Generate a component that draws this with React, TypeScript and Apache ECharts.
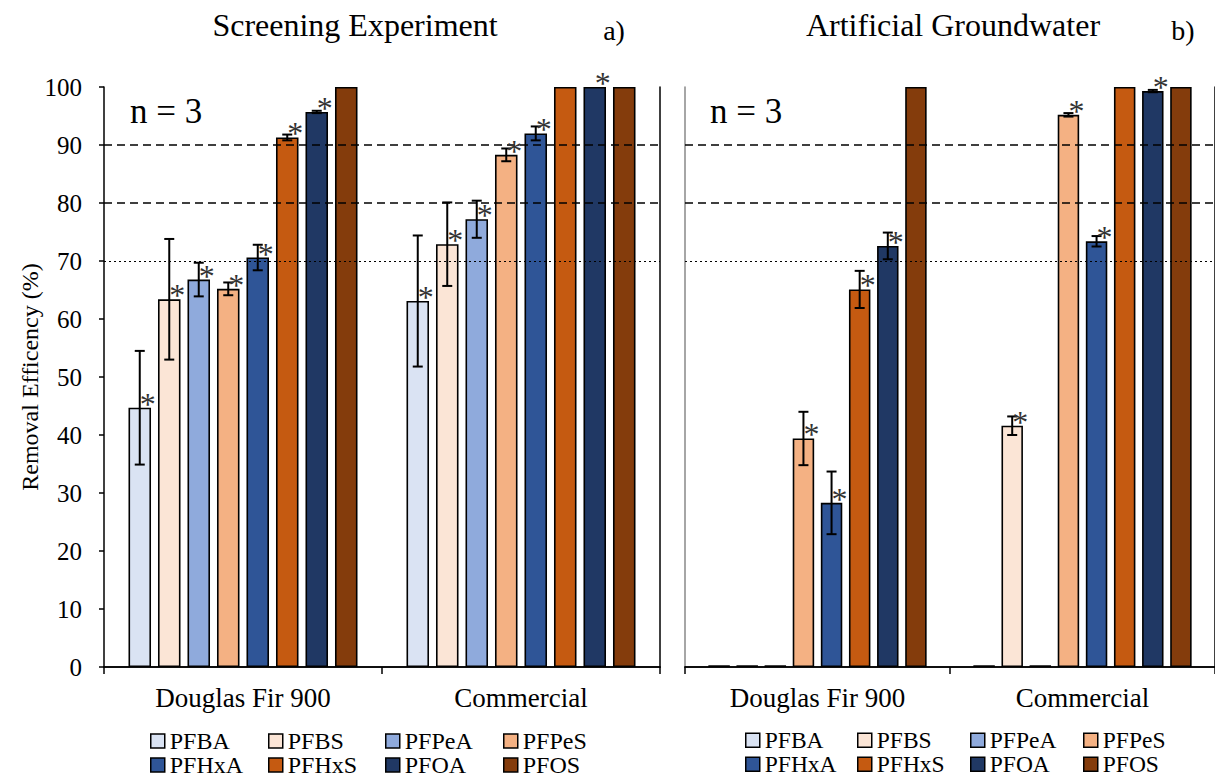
import React, { useEffect, useRef } from "react";
import * as echarts from "echarts";

const categories = ["Douglas Fir 900", "Commercial"];
const compounds = ["PFBA", "PFBS", "PFPeA", "PFPeS", "PFHxA", "PFHxS", "PFOA", "PFOS"];
const colors = ["#DAE3F3", "#FBE5D6", "#8FAADC", "#F4B183", "#2F5597", "#C55A11", "#203864", "#843C0C"];
const yTicks = [0, 10, 20, 30, 40, 50, 60, 70, 80, 90, 100];

// a) Screening Experiment
const screenDF900Mean = [44.7, 63.4, 66.8, 65.2, 70.6, 91.3, 95.7, 100];
const screenDF900Err = [9.8, 10.4, 2.9, 1.1, 2.2, 0.5, 0.2, 0];
const screenDF900Star = [1, 1, 1, 1, 1, 1, 1, 0];
const screenComMean = [63.1, 72.9, 77.2, 88.3, 92.0, 100, 100, 100];
const screenComErr = [11.3, 7.2, 3.2, 1.1, 1.2, 0, 0, 0];
const screenComStar = [1, 1, 1, 1, 1, 0, 1, 0];

// b) Artificial Groundwater
const agwDF900Mean = [0.3, 0.3, 0.3, 39.4, 28.3, 65.1, 72.6, 100];
const agwDF900Err = [0, 0, 0, 4.6, 5.4, 3.2, 2.3, 0];
const agwDF900Star = [0, 0, 0, 1, 1, 1, 1, 0];
const agwComMean = [0.3, 41.6, 0.3, 95.2, 73.4, 100, 99.3, 100];
const agwComErr = [0, 1.6, 0, 0.3, 0.9, 0, 0.2, 0];
const agwComStar = [0, 1, 0, 1, 1, 0, 1, 0];

const FONT = "'Liberation Serif', 'Times New Roman', serif";
const BW = 0.081;
const GAP = 0.31;

function buildPanel(p: number, dfMean: number[], dfErr: number[], dfStar: number[], comMean: number[], comErr: number[], comStar: number[]) {
  const series: any[] = [];
  compounds.forEach((name, i) => {
    const s: any = {
      type: "bar",
      name,
      xAxisIndex: p * 2,
      yAxisIndex: p * 2,
      data: [dfMean[i], comMean[i]],
      barWidth: (BW * 100).toFixed(1) + "%",
      barGap: Math.round(GAP * 100) + "%",
      itemStyle: { color: colors[i], borderColor: "#000", borderWidth: 1.6 },
      emphasis: { disabled: true },
      z: 2,
    };
    if (i === compounds.length - 1) {
      s.markLine = {
        symbol: "none",
        silent: true,
        z: 5,
        label: { show: false },
        data: [
          { yAxis: 90, lineStyle: { color: "#000", width: 1.5, type: [8, 5] } },
          { yAxis: 80, lineStyle: { color: "#000", width: 1.5, type: [8, 5] } },
          { yAxis: 70, lineStyle: { color: "#000", width: 1.2, type: [2, 3] } },
        ],
      };
    }
    series.push(s);
  });
  const errData: number[][] = [];
  [
    [dfMean, dfErr, dfStar],
    [comMean, comErr, comStar],
  ].forEach(([m, e, st], c) => {
    compounds.forEach((_, i) => errData.push([c, i, m[i], e[i], st[i]]));
  });
  series.push({
    type: "custom",
    name: "err" + p,
    xAxisIndex: p * 2,
    yAxisIndex: p * 2,
    clip: false,
    z: 10,
    silent: true,
    encode: { x: 0, y: 2 },
    data: errData,
    renderItem: (params: any, api: any) => {
      const c = api.value(0);
      const i = api.value(1);
      const m = api.value(2);
      const e = api.value(3);
      const s = api.value(4);
      const pt = api.coord([c, m]);
      const band = api.size([1, 0])[0];
      const bw = band * BW;
      const pitch = bw * (1 + GAP);
      const x = pt[0] + (i - 3.5) * pitch;
      const children: any[] = [];
      if (e > 0) {
        const yHi = api.coord([c, m + e])[1];
        const yLo = api.coord([c, m - e])[1];
        const st = { stroke: "#000", lineWidth: 2 };
        children.push({ type: "line", shape: { x1: x, y1: yHi, x2: x, y2: yLo }, style: st });
        children.push({ type: "line", shape: { x1: x - 5, y1: yHi, x2: x + 5, y2: yHi }, style: st });
        children.push({ type: "line", shape: { x1: x - 5, y1: yLo, x2: x + 5, y2: yLo }, style: st });
      }
      if (s) {
        children.push({
          type: "text",
          x: x + 8,
          y: pt[1] - 4,
          style: { text: "*", font: `32px ${FONT}`, fill: "#333", textAlign: "center", textVerticalAlign: "middle" },
        });
      }
      return { type: "group", children };
    },
  });
  return series;
}

export default function App() {
  const ref = useRef<HTMLDivElement>(null);
  useEffect(() => {
    if (!ref.current) return;
    const chart = echarts.init(ref.current, undefined, { renderer: "svg" });
    const grids = [
      { left: 104, top: 87, width: 556, height: 580 },
      { left: 685, top: 87, width: 542, height: 580 },
    ];
    const xAxes: any[] = [];
    const yAxes: any[] = [];
    [0, 1].forEach((p) => {
      xAxes.push({
        type: "category",
        gridIndex: p,
        data: categories,
        position: "bottom",
        axisLine: { lineStyle: { color: "#000", width: 1.5 } },
        axisTick: { show: true, length: 7, lineStyle: { color: "#000", width: 1.5 } },
        axisLabel: { color: "#000", fontFamily: FONT, fontSize: 27, margin: 17 },
      });
      xAxes.push({
        type: "category",
        gridIndex: p,
        data: categories,
        position: "top",
        axisLine: { lineStyle: { color: "#000", width: 1.5 } },
        axisTick: { show: false },
        axisLabel: { show: false },
      });
      yAxes.push({
        type: "value",
        gridIndex: p,
        min: 0,
        max: 100,
        interval: 10,
        axisLine: { show: true, lineStyle: { color: p === 0 ? "#000" : "#888", width: 1.5 } },
        axisTick: { show: p === 0, length: 5, lineStyle: { color: "#000", width: 1.5 } },
        axisLabel: {
          show: p === 0,
          color: "#000",
          fontFamily: FONT,
          fontSize: 25,
          margin: 22,
          formatter: (v: number) => (yTicks.includes(v) ? String(v) : ""),
        },
        splitLine: { show: false },
      });
      yAxes.push({
        type: "value",
        gridIndex: p,
        min: 0,
        max: 100,
        position: "right",
        axisLine: { show: true, lineStyle: { color: "#000", width: 1.5 } },
        axisTick: { show: false },
        axisLabel: { show: false },
        splitLine: { show: false },
      });
    });
    const series = [
      ...buildPanel(0, screenDF900Mean, screenDF900Err, screenDF900Star, screenComMean, screenComErr, screenComStar),
      ...buildPanel(1, agwDF900Mean, agwDF900Err, agwDF900Star, agwComMean, agwComErr, agwComStar),
    ];
    const legends: any[] = [];
    const addLegends = (cols: number[], rows: number[], fs: number) => {
      compounds.forEach((name, k) => {
        const col = k % 4;
        const row = Math.floor(k / 4);
        legends.push({
          left: cols[col],
          top: rows[row] - fs / 2,
          orient: "horizontal",
          data: [name],
          icon: "rect",
          itemWidth: 14,
          itemHeight: 14,
          itemGap: 0,
          padding: 0,
          selectedMode: false,
          itemStyle: { borderColor: "#000", borderWidth: 1.5 },
          textStyle: { fontFamily: FONT, fontSize: fs, lineHeight: fs, color: "#000" },
        });
      });
    };
    addLegends([150, 268, 385, 503], [741, 765], 24);
    addLegends([745, 857, 970, 1083], [740, 764], 23.5);
    const txt = (text: string, x: number, y: number, size: number, align = "center", rot = 0) => ({
      type: "text",
      x,
      y,
      rotation: rot,
      silent: true,
      style: { text, font: `${size}px ${FONT}`, fill: "#000", textAlign: align, textVerticalAlign: "middle" },
    });
    chart.setOption({
      animation: false,
      backgroundColor: "#fff",
      grid: grids,
      xAxis: xAxes,
      yAxis: yAxes,
      series,
      legend: legends,
      graphic: [
        txt("Screening Experiment", 355, 25, 32),
        txt("a)", 614, 30, 28),
        txt("Artificial Groundwater", 953, 25, 32),
        txt("b)", 1183, 30, 28),
        txt("n = 3", 130, 111, 35, "left"),
        txt("n = 3", 710, 111, 35, "left"),
        txt("Removal Efficency (%)", 30, 377, 24, "center", Math.PI / 2),
      ],
    });
    return () => chart.dispose();
  }, []);
  return <div ref={ref} style={{ position: "fixed", left: 0, top: 0, width: 1215, height: 777 }} />;
}
